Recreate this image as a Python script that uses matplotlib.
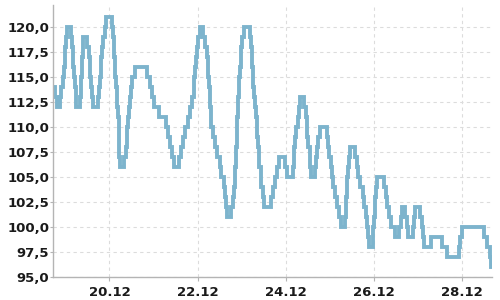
import matplotlib

matplotlib.use("Agg")
import matplotlib.dates as mdates
import matplotlib.pyplot as plt
import pandas as pd
from matplotlib.ticker import FuncFormatter, MultipleLocator

# change points of the step series: hours since 18.12 00:00 -> level held until the next one
HOURS = [
    17.0, 18.25, 19.5, 21.3, 21.85, 22.6, 23.15, 23.7, 24.0, 24.4, 24.8, 27.3, 27.7, 28.05,
    28.4, 28.8, 29.15, 29.5, 29.85, 32.0, 32.4, 32.75, 32.95, 33.1, 33.5, 33.8, 36.0, 36.95,
    37.3, 37.65, 38.0, 38.6, 38.95, 42.0, 42.4, 42.75, 43.3, 43.65, 44.0, 44.55, 45.3, 46.2,
    49.65, 50.0, 50.4, 50.7, 51.1, 51.25, 51.65, 52.0, 52.35, 52.75, 53.0, 53.1, 53.3, 53.45,
    53.65, 55.85, 57.1, 57.5, 57.8, 58.2, 58.55, 59.3, 59.8, 60.35, 62.0, 68.4, 70.2, 71.1,
    72.5, 75.1, 78.7, 79.8, 81.1, 82.3, 83.1, 86.0, 87.1, 88.3, 89.2, 90.7, 92.0, 92.9, 93.8,
    94.3, 94.7, 95.1, 95.6, 96.15, 97.25, 99.05, 100.3, 101.2, 101.6, 101.9, 102.3, 102.6,
    102.85, 103.2, 103.55, 104.5, 105.75, 106.8, 108.1, 109.0, 110.5, 110.85, 111.4, 112.1,
    114.45, 115.4, 115.9, 116.3, 116.6, 116.8, 117.0, 117.25, 117.45, 117.65, 117.9, 118.1,
    118.45, 118.65, 119.0, 119.6, 119.9, 120.3, 121.4, 124.5, 125.35, 125.75, 125.9, 126.05,
    126.45, 126.8, 127.4, 128.1, 128.35, 128.6, 129.0, 129.4, 129.7, 130.4, 130.8, 131.75,
    132.3, 135.9, 137.0, 138.3, 139.35, 140.6, 143.7, 144.8, 147.9, 148.45, 148.8, 149.3,
    149.7, 150.6, 151.5, 152.05, 154.2, 155.15, 155.4, 155.7, 156.4, 157.15, 157.5, 157.9,
    160.05, 160.75, 161.15, 161.85, 162.95, 166.6, 167.3, 167.85, 168.75, 169.3, 169.7, 170.6,
    172.05, 173.3, 173.95, 176.4, 176.8, 177.1, 177.3, 177.65, 178.0, 178.6, 179.1, 181.7,
    182.8, 183.5, 184.6, 185.85, 186.75, 187.7, 188.55, 188.9, 189.2, 191.3, 191.8, 192.1,
    192.6, 192.9, 193.3, 193.85, 197.65, 198.6, 199.45, 200.4, 201.3, 203.5, 205.8, 206.75,
    207.6, 209.1, 210.3, 210.9, 213.6, 214.15, 214.55, 217.1, 218.35, 218.9, 219.3, 222.9,
    229.25, 232.0, 238.35, 239.2, 240.15, 251.95, 253.75, 255.2, 255.95, 256.6,
]
LEVELS = [
    114, 113, 112, 113, 114, 115, 116, 117, 118, 119, 120, 119, 118, 117,
    116, 115, 114, 113, 112, 113, 114, 115, 116, 117, 118, 119, 118, 117,
    116, 115, 114, 113, 112, 113, 114, 115, 116, 117, 118, 119, 120, 121,
    120, 119, 118, 117, 116, 115, 114, 113, 112, 111, 110, 109, 108, 107,
    106, 107, 108, 109, 110, 111, 112, 113, 114, 115, 116, 115, 114, 113,
    112, 111, 110, 109, 108, 107, 106, 107, 108, 109, 110, 111, 112, 113, 114,
    115, 116, 117, 118, 119, 120, 119, 118, 117, 116, 115, 114, 113,
    112, 111, 110, 109, 108, 107, 106, 105, 104, 103, 102, 101,
    102, 103, 104, 105, 106, 107, 108, 109, 110, 111, 112, 113,
    114, 115, 116, 117, 118, 119, 120, 119, 118, 117, 116, 115,
    114, 113, 112, 111, 110, 109, 108, 107, 106, 105, 104, 103,
    102, 103, 104, 105, 106, 107, 106, 105, 106, 107, 108, 109,
    110, 111, 112, 113, 112, 111, 110, 109, 108, 107, 106, 105,
    106, 107, 108, 109, 110, 109, 108, 107, 106, 105, 104, 103,
    102, 101, 100, 101, 102, 103, 104, 105, 106, 107, 108, 107,
    106, 105, 104, 103, 102, 101, 100, 99, 98, 99, 100, 101,
    102, 103, 104, 105, 104, 103, 102, 101, 100, 99, 100, 101,
    102, 101, 100, 99, 100, 101, 102, 101, 100, 99, 98, 99,
    98, 97, 98, 99, 100, 99, 98, 97, 96, 96,
]

START = pd.Timestamp("2023-12-18")
X_RANGE_H = (17.4, 256.4)
Y_RANGE = (95.0, 122.2)

C_LINE = "#7db4cd"
C_GRID = "#dcdcdc"
C_SPINE = "#b4b4b4"
INK = "#1a1a1a"


def main() -> None:
    t = START + pd.to_timedelta(HOURS, unit="h")

    fig = plt.figure(figsize=(5, 3), dpi=100, facecolor="white")
    ax = fig.add_axes([0.1066, 0.0757, 0.8774, 0.9076])

    ax.step(t, LEVELS, where="post", color=C_LINE, lw=2.8, solid_joinstyle="miter")

    ax.set_xlim(START + pd.Timedelta(hours=X_RANGE_H[0]), START + pd.Timedelta(hours=X_RANGE_H[1]))
    ax.set_ylim(*Y_RANGE)

    ax.xaxis.set_major_locator(mdates.DayLocator(bymonthday=range(2, 31, 2)))
    ax.xaxis.set_major_formatter(mdates.DateFormatter("%d.%m"))
    ax.yaxis.set_major_locator(MultipleLocator(2.5))
    ax.yaxis.set_major_formatter(FuncFormatter(lambda v, _: f"{v:.1f}".replace(".", ",")))

    ax.grid(True, color=C_GRID, lw=0.8, ls=(0, (3, 3)))
    ax.set_axisbelow(True)
    for side in ("top", "right"):
        ax.spines[side].set_visible(False)
    for side in ("left", "bottom"):
        ax.spines[side].set_color(C_SPINE)
        ax.spines[side].set_linewidth(1.0)

    ax.tick_params(axis="y", length=2, pad=1, color=C_SPINE)
    ax.tick_params(axis="x", length=3, pad=3, color=C_SPINE)
    for lab in ax.get_xticklabels() + ax.get_yticklabels():
        lab.set_fontsize(9.5)
        lab.set_fontweight("bold")
        lab.set_color(INK)

    fig.savefig("out.png", dpi=100, facecolor="white")
    plt.close(fig)


if __name__ == "__main__":
    main()
